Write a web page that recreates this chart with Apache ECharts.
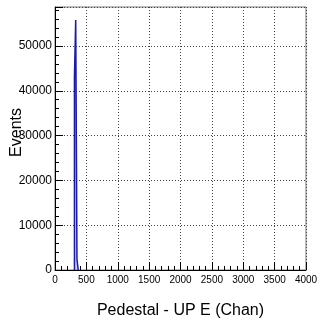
<!DOCTYPE html>
<html>
<head>
<meta charset="utf-8">
<script src="https://cdn.jsdelivr.net/npm/echarts@6/dist/echarts.min.js"></script>
<style>html,body{margin:0;padding:0;background:#fff}#c{width:322px;height:324px}</style>
</head>
<body>
<div id="c"></div>
<script>
// Histogram data (bin left edges in channels, counts)
var binLeft = [310, 330, 350];
var binCounts = [43200, 55800, 2400];
var binWidth = 20;
var xTicks = [0, 500, 1000, 1500, 2000, 2500, 3000, 3500, 4000];
var yTicks = [0, 10000, 20000, 30000, 40000, 50000];
var xTitle = 'Pedestal - UP E (Chan)';
var yTitle = 'Events';

var pts = [[binLeft[0], 0]];
for (var i = 0; i < binLeft.length; i++) pts.push([binLeft[i], binCounts[i]]);
pts.push([binLeft[binLeft.length - 1] + binWidth, 0]);

var font = 'Liberation Sans, Arial, Helvetica, sans-serif';
var chart = echarts.init(document.getElementById('c'), null, {renderer: 'canvas'});
chart.setOption({
  animation: false,
  grid: {left: 55, right: 16, top: 7, bottom: 47, show: true, borderColor: '#777', borderWidth: 1, backgroundColor: 'transparent'},
  xAxis: {
    type: 'value', min: 0, max: 4000, interval: 500,
    name: xTitle, nameLocation: 'middle', nameGap: 33,
    nameTextStyle: {fontFamily: font, fontSize: 16, color: '#000'},
    axisLine: {show: true, onZero: false, lineStyle: {color: '#000', width: 1}},
    axisTick: {show: true, inside: true, length: 8, lineStyle: {color: '#000'}},
    minorTick: {show: true, splitNumber: 5, length: 4, lineStyle: {color: '#000'}},
    axisLabel: {fontFamily: font, fontSize: 10, color: '#000', margin: 5,
      formatter: function (v) { return xTicks.indexOf(v) >= 0 ? String(v) : ''; }},
    splitLine: {show: true, lineStyle: {color: '#444', type: [1, 2], width: 1}}
  },
  yAxis: {
    type: 'value', min: 0, max: 58700, interval: 10000,
    axisLine: {show: true, lineStyle: {color: '#000', width: 1}},
    axisTick: {show: true, inside: true, length: 8, lineStyle: {color: '#000'}},
    minorTick: {show: true, splitNumber: 5, length: 4, lineStyle: {color: '#000'}},
    axisLabel: {fontFamily: font, fontSize: 12, color: '#000', margin: 3,
      formatter: function (v) { return yTicks.indexOf(v) >= 0 ? String(v) : ''; }},
    splitLine: {show: true, lineStyle: {color: '#444', type: [1, 2], width: 1}}
  },
  graphic: [{
    type: 'text', left: 9, top: 108, rotation: Math.PI / 2,
    style: {text: yTitle, fontFamily: font, fontSize: 16, fill: '#000'}
  }],
  series: [{
    type: 'line', step: 'end', data: pts, symbol: 'none',
    lineStyle: {color: '#1a1aa8', width: 1.5},
    areaStyle: {color: 'rgba(130,130,235,0.55)', origin: 'start'},
    z: 5
  }]
});
</script>
</body>
</html>
